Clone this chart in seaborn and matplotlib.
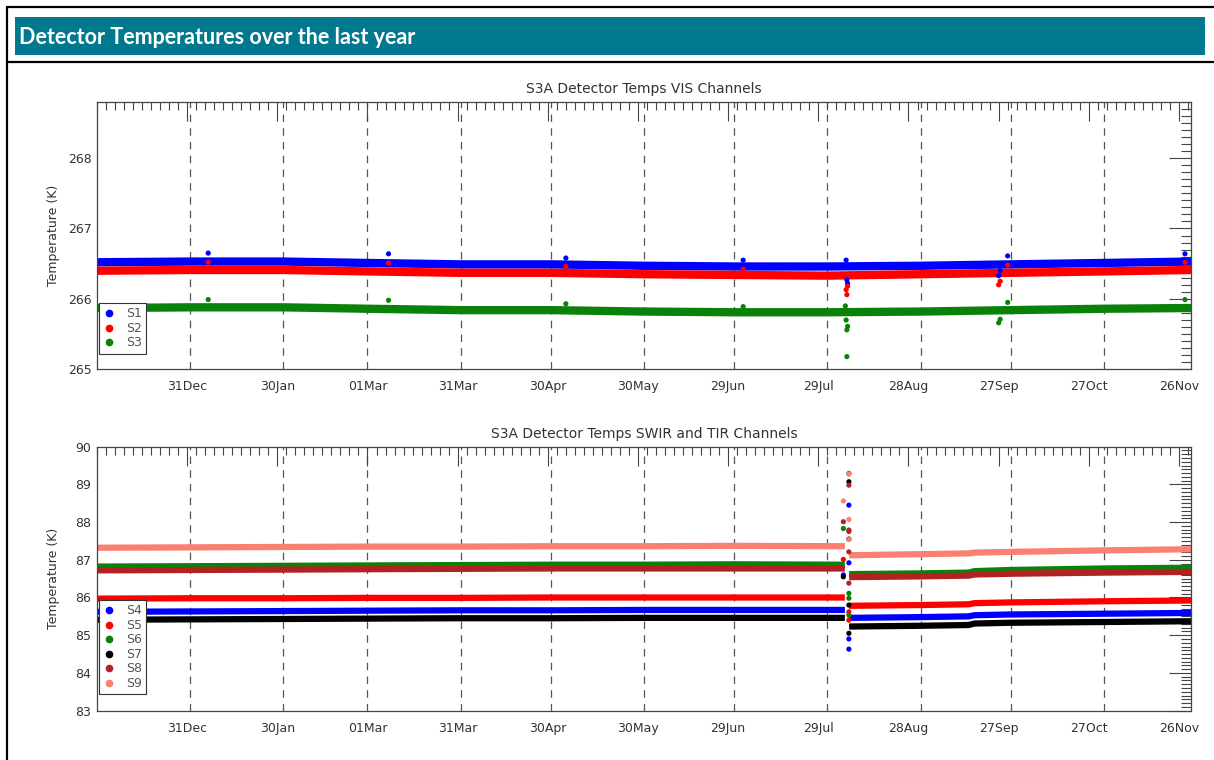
import numpy as np
import pandas as pd
import matplotlib
matplotlib.use("Agg")
import matplotlib.pyplot as plt
import matplotlib.dates as mdates
from matplotlib.ticker import FixedLocator, MultipleLocator
from matplotlib.lines import Line2D
from matplotlib.patches import Rectangle
import seaborn as sns

# ---------------- data ----------------
page_title = "Detector Temperatures over the last year"
vis_title = "S3A Detector Temps VIS Channels"
ir_title = "S3A Detector Temps SWIR and TIR Channels"
y_label = "Temperature (K)"

x_start = "2018-12-01"
x_end = "2019-11-30"
tick_dates = ["2018-12-31", "2019-01-30", "2019-03-01", "2019-03-31", "2019-04-30",
              "2019-05-30", "2019-06-29", "2019-07-29", "2019-08-28", "2019-09-27",
              "2019-10-27", "2019-11-26"]
tick_labels = ["31Dec", "30Jan", "01Mar", "31Mar", "30Apr", "30May", "29Jun",
               "29Jul", "28Aug", "27Sep", "27Oct", "26Nov"]
month_starts = ["2019-01-01", "2019-02-01", "2019-03-01", "2019-04-01", "2019-05-01",
                "2019-06-01", "2019-07-01", "2019-08-01", "2019-09-01", "2019-10-01",
                "2019-11-01"]

# VIS channels (band centres)
vis_dates = ["2018-12-01", "2019-01-01", "2019-02-01", "2019-03-01", "2019-04-01",
             "2019-05-01", "2019-06-01", "2019-07-01", "2019-08-01", "2019-09-01",
             "2019-10-01", "2019-11-01", "2019-11-30"]
s1 = [266.52, 266.53, 266.53, 266.51, 266.49, 266.49, 266.47, 266.46, 266.46, 266.47, 266.49, 266.51, 266.53]
s2 = [266.40, 266.41, 266.41, 266.39, 266.37, 266.37, 266.35, 266.34, 266.33, 266.35, 266.37, 266.39, 266.41]
s3 = [265.87, 265.88, 265.88, 265.86, 265.84, 265.84, 265.82, 265.81, 265.81, 265.82, 265.84, 265.86, 265.87]

# VIS outliers
vis_out_dates = ["2019-01-07", "2019-03-08", "2019-05-06", "2019-07-04",
                 "2019-08-07 06:00", "2019-08-07 12:00", "2019-08-07 18:00",
                 "2019-09-27", "2019-09-27 12:00", "2019-09-30", "2019-11-28"]
s1_out = [266.65, 266.64, 266.58, 266.55, 266.55, 266.27, 266.22, 266.33, 266.40, 266.61, 266.64]
s2_out = [266.52, 266.51, 266.46, 266.42, 266.13, 266.06, 266.18, 266.20, 266.25, 266.48, 266.52]
s3_out = [265.99, 265.98, 265.93, 265.89, 265.70, 265.56, 265.61, 265.66, 265.71, 265.95, 265.99]
s3_extra_dates = ["2019-08-07 12:00", "2019-08-07 00:00"]
s3_extra = [265.18, 265.90]

# SWIR / TIR channels (band centres), two segments around the early-August event
ir_dates_a = ["2018-12-01", "2019-01-01", "2019-02-01", "2019-03-01", "2019-04-01",
              "2019-05-01", "2019-06-01", "2019-07-01", "2019-08-06 20:00"]
ir_dates_b = ["2019-08-08 06:00", "2019-09-01", "2019-09-17", "2019-09-19",
              "2019-10-01", "2019-11-01", "2019-11-30"]
s4_a = [85.62, 85.63, 85.64, 85.65, 85.66, 85.66, 85.67, 85.67, 85.67]
s4_b = [85.46, 85.48, 85.50, 85.53, 85.55, 85.57, 85.59]
s5_a = [85.97, 85.98, 85.98, 85.99, 85.99, 86.00, 86.00, 86.00, 86.00]
s5_b = [85.78, 85.80, 85.82, 85.85, 85.87, 85.90, 85.92]
s6_a = [86.82, 86.83, 86.84, 86.85, 86.86, 86.87, 86.87, 86.88, 86.87]
s6_b = [86.62, 86.64, 86.66, 86.70, 86.73, 86.77, 86.79]
s7_a = [85.41, 85.42, 85.43, 85.44, 85.45, 85.45, 85.46, 85.46, 85.46]
s7_b = [85.23, 85.25, 85.27, 85.31, 85.33, 85.35, 85.37]
s8_a = [86.72, 86.73, 86.74, 86.75, 86.76, 86.77, 86.77, 86.77, 86.77]
s8_b = [86.54, 86.56, 86.58, 86.61, 86.63, 86.66, 86.68]
s9_a = [87.32, 87.33, 87.34, 87.35, 87.35, 87.36, 87.36, 87.37, 87.36]
s9_b = [87.12, 87.15, 87.17, 87.19, 87.21, 87.25, 87.28]

# SWIR / TIR event points
ev_pre = "2019-08-06 08:00"
ev_main = "2019-08-08 04:00"
s4_ev_dates = [ev_pre, ev_main, ev_main, ev_main, ev_main]
s4_ev = [86.60, 88.45, 86.92, 84.90, 84.63]
s5_ev_dates = [ev_pre, ev_main, ev_main]
s5_ev = [87.01, 85.40, 85.62]
s6_ev_dates = [ev_pre, ev_main, ev_main, ev_main, ev_main]
s6_ev = [87.83, 89.29, 86.11, 85.98, 85.53]
s7_ev_dates = [ev_pre, ev_main, ev_main, ev_main, ev_main]
s7_ev = [86.55, 89.07, 87.55, 85.80, 85.05]
s8_ev_dates = [ev_pre, ev_main, ev_main, ev_main, ev_main, ev_main]
s8_ev = [88.01, 88.98, 87.79, 87.75, 87.21, 86.38]
s9_ev_dates = [ev_pre, ev_main, ev_main, ev_main]
s9_ev = [88.56, 89.27, 88.07, 87.54]

vis_names = ["S1", "S2", "S3"]
ir_names = ["S4", "S5", "S6", "S7", "S8", "S9"]
colors = {"S1": "#0000ff", "S2": "#ff0000", "S3": "#0a820a",
          "S4": "#0000ff", "S5": "#ff0000", "S6": "#0a820a",
          "S7": "#000000", "S8": "#b22222", "S9": "#fa8072"}


def to_dt(d):
    return pd.to_datetime(pd.Series(d), format="ISO8601")


# ---------------- tables ----------------
vis_df = pd.concat([pd.DataFrame({"date": to_dt(vis_dates), "temp": v, "series": n})
                    for n, v in zip(vis_names, [s1, s2, s3])], ignore_index=True)
vis_out = pd.concat([pd.DataFrame({"date": to_dt(d), "temp": v, "series": n})
                     for n, d, v in [("S1", vis_out_dates, s1_out), ("S2", vis_out_dates, s2_out),
                                     ("S3", vis_out_dates, s3_out), ("S3", s3_extra_dates, s3_extra)]],
                    ignore_index=True)
ir_parts = []
for n, a, b in zip(ir_names, [s4_a, s5_a, s6_a, s7_a, s8_a, s9_a], [s4_b, s5_b, s6_b, s7_b, s8_b, s9_b]):
    ir_parts.append(pd.DataFrame({"date": to_dt(ir_dates_a), "temp": a, "series": n, "seg": "a"}))
    ir_parts.append(pd.DataFrame({"date": to_dt(ir_dates_b), "temp": b, "series": n, "seg": "b"}))
ir_df = pd.concat(ir_parts, ignore_index=True)
ir_ev = pd.concat([pd.DataFrame({"date": to_dt(d), "temp": v, "series": n})
                   for n, d, v in zip(ir_names,
                                      [s4_ev_dates, s5_ev_dates, s6_ev_dates, s7_ev_dates, s8_ev_dates, s9_ev_dates],
                                      [s4_ev, s5_ev, s6_ev, s7_ev, s8_ev, s9_ev])],
                  ignore_index=True)

# ---------------- figure ----------------
sns.set_theme(style="white")
plt.rcParams["font.family"] = ["DejaVu Sans"]
W, H = 1214, 760
fig = plt.figure(figsize=(W / 100, H / 100), dpi=100)
fig.patch.set_facecolor("white")


def fx(px):
    return px / W


def fy(py):
    return 1 - py / H


# page frame and title bar
frame_kw = dict(color="black", lw=1.6, transform=fig.transFigure)
fig.add_artist(Line2D([fx(7), fx(7)], [fy(7), fy(760)], **frame_kw))
fig.add_artist(Line2D([fx(7), fx(1214)], [fy(7), fy(7)], **frame_kw))
fig.add_artist(Line2D([fx(7), fx(1214)], [fy(62), fy(62)], **frame_kw))
fig.add_artist(Rectangle((fx(15), fy(55)), fx(1190), 38 / H, transform=fig.transFigure,
                         facecolor="#00798f", edgecolor="none"))
fig.text(fx(19), fy(44), page_title, color="white", fontsize=15.5, fontweight="bold",
         family=["Lato", "DejaVu Sans"], va="baseline", ha="left")

ax1 = fig.add_axes([fx(97), fy(369.3), fx(1094), 267.6 / H])
ax2 = fig.add_axes([fx(97), fy(710.6), fx(1094), 263.9 / H])

txt_col = "#333333"
xmin, xmax = pd.Timestamp(x_start), pd.Timestamp(x_end)
minor_x = mdates.date2num(pd.date_range(x_start, x_end, freq="3D"))


def style_axes(ax, title, ylim, ymajor):
    ax.set_xlim(xmin, xmax)
    ax.set_ylim(*ylim)
    for d in month_starts:
        ax.axvline(pd.Timestamp(d), color="#555555", lw=0.9, ls=(0, (6, 5)), zorder=0)
    ax.xaxis.set_major_locator(FixedLocator(mdates.date2num(pd.to_datetime(tick_dates))))
    ax.set_xticklabels(tick_labels)
    ax.xaxis.set_minor_locator(FixedLocator(minor_x))
    ax.yaxis.set_major_locator(MultipleLocator(ymajor))
    ax.yaxis.set_minor_locator(MultipleLocator(0.1))
    ax.tick_params(axis="both", which="both", direction="in", top=True, right=True,
                   color="#444444", width=0.8, labelcolor=txt_col, labelsize=9)
    ax.tick_params(axis="x", which="major", length=14, pad=8)
    ax.tick_params(axis="x", which="minor", length=6)
    ax.tick_params(axis="y", which="major", length=15.5, pad=4)
    ax.tick_params(axis="y", which="minor", length=7)
    for s in ax.spines.values():
        s.set_color("#444444")
        s.set_linewidth(0.9)
    ax.set_title(title, fontsize=10, color=txt_col, pad=6)
    ax.set_xlabel("")
    ax.set_ylabel(y_label, fontsize=9, color=txt_col)
    ax.yaxis.set_label_coords(-0.034, 0.5)


# VIS panel
sns.lineplot(data=vis_df, x="date", y="temp", hue="series", palette=colors, hue_order=vis_names,
             estimator=None, sort=False, linewidth=6, legend=False, ax=ax1,
             solid_capstyle="butt", zorder=2)
sns.scatterplot(data=vis_out, x="date", y="temp", hue="series", palette=colors, hue_order=vis_names,
                s=14, linewidth=0, legend=False, ax=ax1, zorder=3)
style_axes(ax1, vis_title, (265, 268.8), 1)

# SWIR/TIR panel
sns.lineplot(data=ir_df, x="date", y="temp", hue="series", units="seg", palette=colors,
             hue_order=ir_names, estimator=None, sort=False, linewidth=4.5, legend=False, ax=ax2,
             solid_capstyle="butt", zorder=2)
sns.scatterplot(data=ir_ev, x="date", y="temp", hue="series", palette=colors, hue_order=ir_names,
                s=14, linewidth=0, legend=False, ax=ax2, zorder=3)
style_axes(ax2, ir_title, (83, 90), 1)


def add_legend(ax, names, anchor_y):
    handles = [Line2D([], [], ls="none", marker="o", markersize=4.5, color=colors[n]) for n in names]
    leg = ax.legend(handles, names, loc="upper left", bbox_to_anchor=(0.002, anchor_y),
                    borderaxespad=0, fancybox=False, framealpha=1, edgecolor="#333333",
                    fontsize=9, labelspacing=0.12, handlelength=0.9, handletextpad=0.9,
                    borderpad=0.35, labelcolor="#555555")
    leg.get_frame().set_linewidth(0.8)


add_legend(ax1, vis_names, (369.3 - 303) / 267.6)
add_legend(ax2, ir_names, (710.6 - 600) / 263.9)

fig.savefig("out.png", dpi=100)
